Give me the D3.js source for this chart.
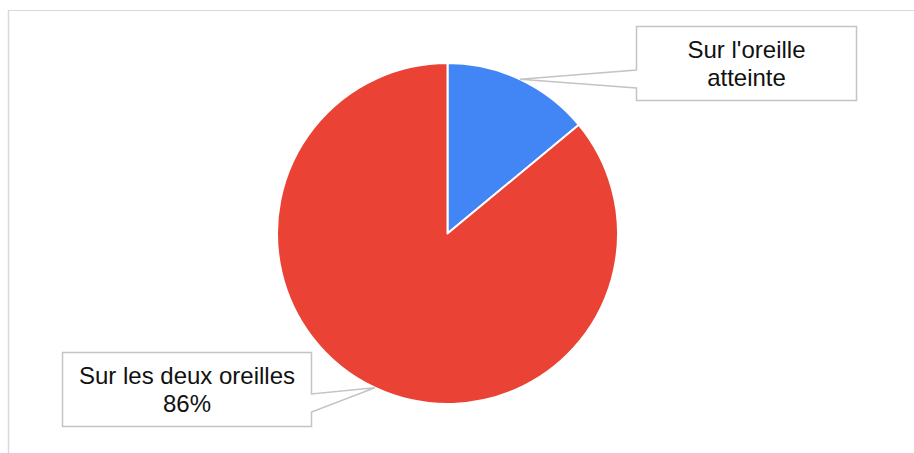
<!DOCTYPE html>
<html>
<head>
<meta charset="utf-8">
<script src="https://cdn.jsdelivr.net/npm/d3@7"></script>
<style>
  html, body { margin: 0; padding: 0; background: #fff; }
  svg { display: block; }
</style>
</head>
<body>
<svg id="chart" width="914" height="453"></svg>
<script>
// Data
const categories = ["Sur l'oreille atteinte", "Sur les deux oreilles"];
const values = [14, 86];
const colors = ["#4285F4", "#EA4335"];
// Callout text lines for each slice
const labelLines = [["Sur l'oreille", "atteinte"], ["Sur les deux oreilles", "86%"]];

const W = 914, H = 453;
const svg = d3.select("#chart");

// Light frame along the top and left edges
svg.append("line").attr("x1", 8).attr("y1", 10.5).attr("x2", W).attr("y2", 10.5)
  .attr("stroke", "#d9d9d9").attr("stroke-width", 1);
svg.append("line").attr("x1", 8.5).attr("y1", 10).attr("x2", 8.5).attr("y2", H)
  .attr("stroke", "#d9d9d9").attr("stroke-width", 1.5);

const cx = 447.5, cy = 233.5, R = 170.5;

const pie = d3.pie().sort(null).value(d => d.value);
const arcs = pie(categories.map((c, i) => ({ name: c, value: values[i], color: colors[i], lines: labelLines[i] })));
const arc = d3.arc().innerRadius(0).outerRadius(R);

const g = svg.append("g").attr("transform", `translate(${cx},${cy})`);
g.selectAll("path.slice").data(arcs).join("path")
  .attr("class", "slice")
  .attr("d", arc)
  .attr("fill", d => d.data.color)
  .attr("stroke", "#fff")
  .attr("stroke-width", 2)
  .attr("stroke-linejoin", "round");

// Callout boxes: box rectangle plus the side where the pointer attaches
const boxes = [
  { x: 636.5, y: 26.5, w: 220, h: 74, side: "left", base: [70, 88] },
  { x: 62.5, y: 352.5, w: 249, h: 74, side: "right", base: [394, 412] }
];

const fontSize = 24, lineH = 28.5;

arcs.forEach((a, i) => {
  const b = boxes[i];
  const mid = (a.startAngle + a.endAngle) / 2;
  const tx = cx + R * Math.sin(mid);
  const ty = cy - R * Math.cos(mid);
  const ex = b.side === "left" ? b.x : b.x + b.w;

  // Outline of box with a pointer wedge toward the slice
  let pts;
  if (b.side === "left") {
    pts = [[b.x, b.y], [b.x + b.w, b.y], [b.x + b.w, b.y + b.h], [b.x, b.y + b.h],
           [b.x, b.base[1]], [tx, ty], [b.x, b.base[0]]];
  } else {
    pts = [[b.x, b.y], [b.x + b.w, b.y], [b.x + b.w, b.base[0]], [tx, ty],
           [b.x + b.w, b.base[1]], [b.x + b.w, b.y + b.h], [b.x, b.y + b.h]];
  }
  svg.append("path")
    .attr("d", d3.line()(pts) + "Z")
    .attr("fill", "#fff")
    .attr("stroke", "#c4c4c4")
    .attr("stroke-width", 1.5)
    .attr("stroke-linejoin", "miter");

  const midY = b.y + b.h / 2;
  const t = svg.append("text")
    .attr("text-anchor", "middle")
    .attr("font-family", "Liberation Sans, Arial, sans-serif")
    .attr("font-size", fontSize)
    .attr("fill", "#111");
  const n = a.data.lines.length;
  a.data.lines.forEach((ln, k) => {
    t.append("tspan")
      .attr("x", b.x + b.w / 2)
      .attr("y", midY + (k - (n - 1) / 2) * lineH + fontSize * 0.36)
      .text(ln);
  });
});
</script>
</body>
</html>
